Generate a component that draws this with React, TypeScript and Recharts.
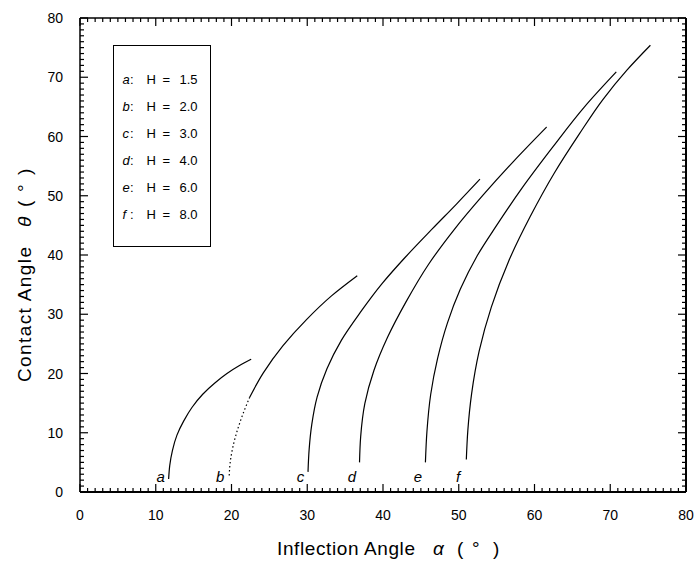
import {
  ComposedChart,
  Label,
  Legend,
  Line,
  Scatter,
  XAxis,
  YAxis,
} from "recharts";

// curve letters and the dimensionless height each one belongs to
const curveNames = ["a", "b", "c", "d", "e", "f"];
const heights = [1.5, 2.0, 3.0, 4.0, 6.0, 8.0];

// inflection angle (alpha) vs contact angle (theta), degrees
const aAlpha = [11.7, 11.85, 12.2, 12.8, 13.7, 14.8, 16.2, 17.8, 19.4, 21.0, 22.6];
const aTheta = [2.2, 4.5, 7.0, 9.6, 12.0, 14.3, 16.5, 18.4, 20.0, 21.3, 22.4];

// lower part of b prints as a dotted trace
const bLowAlpha = [19.7, 19.8, 20.2, 21.1, 22.4];
const bLowTheta = [2.8, 4.7, 7.7, 11.7, 16.0];
const bAlpha = [22.4, 24.2, 26.8, 29.9, 33.2, 36.6];
const bTheta = [16.0, 20.1, 24.7, 29.1, 33.1, 36.5];

const cAlpha = [30.1, 30.25, 30.6, 31.3, 32.6, 34.5, 37.0, 39.9, 43.0, 46.5, 49.7, 52.8];
const cTheta = [3.4, 7.2, 11.4, 16.0, 20.8, 25.6, 30.3, 35.2, 39.7, 44.4, 48.6, 52.8];

const dAlpha = [36.9, 37.05, 37.6, 38.8, 40.6, 43.0, 46.0, 49.4, 53.2, 57.3, 61.6];
const dTheta = [5.0, 9.3, 14.9, 20.5, 26.1, 32.0, 38.4, 44.3, 50.1, 55.9, 61.6];

const eAlpha = [45.6, 45.8, 46.3, 47.2, 48.5, 50.2, 52.4, 55.0, 58.3, 62.4, 66.6, 70.8];
const eTheta = [5.0, 10.2, 16.5, 22.5, 28.5, 34.2, 39.8, 45.0, 51.2, 58.2, 65.0, 70.9];

const fAlpha = [51.0, 51.2, 51.7, 52.7, 54.3, 56.6, 59.4, 62.6, 65.9, 69.0, 72.2, 75.3];
const fTheta = [5.5, 10.4, 16.6, 23.8, 31.2, 39.0, 46.4, 53.8, 60.4, 66.2, 71.2, 75.4];

// where the letter of each curve sits
const letterAlpha = [10.65, 18.5, 29.1, 35.9, 44.6, 49.9];
const letterTheta = [2.6, 2.6, 2.6, 2.6, 2.6, 2.6];

const toPoints = (alpha: number[], theta: number[]) =>
  alpha.map((a, i) => ({ alpha: a, theta: theta[i] }));

const curves = [
  { key: "a", data: toPoints(aAlpha, aTheta) },
  { key: "b", data: toPoints(bAlpha, bTheta) },
  { key: "c", data: toPoints(cAlpha, cTheta) },
  { key: "d", data: toPoints(dAlpha, dTheta) },
  { key: "e", data: toPoints(eAlpha, eTheta) },
  { key: "f", data: toPoints(fAlpha, fTheta) },
];
const bLow = toPoints(bLowAlpha, bLowTheta);
const letters = curveNames.map((name, i) => ({
  name,
  alpha: letterAlpha[i],
  theta: letterTheta[i],
}));

// plot box inside the 698x563 svg
const PLOT = { top: 18, left: 80, width: 606, height: 474 };

const ticks = Array.from({ length: 81 }, (_, i) => i);
const tickLen = (v: number) => (v % 10 === 0 ? 8 : 4);
const tickY = (v: number) => PLOT.top + PLOT.height * (1 - v / 80);

// The bottom axis draws the whole frame: its own inward ticks and labels,
// the matching top ticks, and on its two end ticks the left/right sides.
const FrameTick = ({ x, y, payload }: any) => {
  const v = payload.value;
  const len = tickLen(v);
  return (
    <g stroke="#000" strokeWidth={1.2}>
      <line x1={x} x2={x} y1={y} y2={y - len} />
      <line x1={x} x2={x} y1={PLOT.top} y2={PLOT.top + len} />
      {v === 0 && (
        <>
          <line x1={x} x2={x + PLOT.width} y1={PLOT.top} y2={PLOT.top} strokeWidth={1.5} />
          {ticks.map((t) => (
            <line key={t} x1={x} x2={x + tickLen(t)} y1={tickY(t)} y2={tickY(t)} />
          ))}
        </>
      )}
      {v === 80 && (
        <>
          <line x1={x} x2={x} y1={PLOT.top} y2={y} strokeWidth={2} />
          {ticks.map((t) => (
            <line key={t} x1={x} x2={x - tickLen(t)} y1={tickY(t)} y2={tickY(t)} />
          ))}
        </>
      )}
      {v % 10 === 0 && (
        <text x={x} y={y + 28} textAnchor="middle" fontSize={14} fill="#000" stroke="none">
          {v}
        </text>
      )}
    </g>
  );
};

const LeftTick = ({ x, y, payload }: any) =>
  payload.value % 10 === 0 ? (
    <text x={x - 17} y={y + 5} textAnchor="end" fontSize={14} fill="#000">
      {payload.value}
    </text>
  ) : (
    <g />
  );

const XTitle = ({ viewBox }: any) => {
  const x0 = (viewBox?.x ?? 80) + 197;
  const y0 = (viewBox?.y ?? 492) + 63;
  return (
    <g fontSize={19} fill="#000">
      <text x={x0} y={y0} textLength={138} lengthAdjust="spacing">
        Inflection Angle
      </text>
      <text x={x0 + 156} y={y0} fontStyle="italic">α</text>
      <text x={x0 + 180} y={y0}>(</text>
      <text x={x0 + 195} y={y0}>°</text>
      <text x={x0 + 216} y={y0}>)</text>
    </g>
  );
};

const YTitle = () => (
  <g fontSize={19} fill="#000" transform="translate(30.5, 382) rotate(-90)">
    <text x={0} y={0} textLength={135} lengthAdjust="spacing">
      Contact Angle
    </text>
    <text x={155} y={0} fontStyle="italic">θ</text>
    <text x={175} y={0}>(</text>
    <text x={190} y={0}>°</text>
    <text x={207} y={0}>)</text>
  </g>
);

const LegendBox = () => (
  <div
    style={{
      position: "relative",
      width: 98,
      height: 202,
      border: "1.5px solid #000",
      boxSizing: "border-box",
      fontSize: 13,
      lineHeight: "15px",
      color: "#000",
      background: "#fff",
    }}
  >
    {curveNames.map((n, i) => (
      <div key={n} style={{ position: "absolute", top: 26 + i * 27, left: 0, width: "100%", height: 15 }}>
        <span style={{ position: "absolute", left: 8.5, fontStyle: "italic" }}>{n}</span>
        <span style={{ position: "absolute", left: 16 }}>:</span>
        <span style={{ position: "absolute", left: 32.5 }}>H</span>
        <span style={{ position: "absolute", left: 48.5 }}>=</span>
        <span style={{ position: "absolute", left: 65.5 }}>{heights[i].toFixed(1)}</span>
      </div>
    ))}
  </div>
);

const LetterMark = ({ cx, cy, payload }: any) => (
  <text x={cx} y={cy + 5} textAnchor="middle" fontSize={15} fontStyle="italic" fill="#000">
    {payload.name}
  </text>
);

export default function App() {
  return (
    <div
      style={{
        position: "absolute",
        left: 0,
        top: 0,
        fontFamily: '"Liberation Sans", Arial, sans-serif',
      }}
    >
      <ComposedChart
        width={698}
        height={563}
        margin={{ top: PLOT.top, right: 698 - PLOT.left - PLOT.width, bottom: 0, left: 8 }}
      >
        <XAxis
          dataKey="alpha"
          type="number"
          domain={[0, 80]}
          ticks={ticks}
          interval={0}
          height={71}
          tickSize={0}
          tickMargin={0}
          tickLine={false}
          tick={FrameTick}
          axisLine={{ stroke: "#000", strokeWidth: 2 }}
        >
          <Label content={XTitle} />
        </XAxis>
        <YAxis
          type="number"
          domain={[0, 80]}
          ticks={ticks}
          interval={0}
          width={72}
          tickSize={0}
          tickMargin={0}
          tickLine={false}
          tick={LeftTick}
          axisLine={{ stroke: "#000", strokeWidth: 1.5 }}
        >
          <Label content={YTitle} />
        </YAxis>
        <Legend
          layout="vertical"
          align="center"
          verticalAlign="middle"
          content={LegendBox}
          wrapperStyle={{ top: 45, left: 113, width: 98, height: 202 }}
        />
        <Line
          data={bLow}
          dataKey="theta"
          type="monotoneY"
          stroke="#000"
          strokeWidth={1.2}
          strokeDasharray="1.5 2.5"
          dot={false}
          activeDot={false}
          legendType="none"
          isAnimationActive={false}
        />
        {curves.map((c) => (
          <Line
            key={c.key}
            name={c.key}
            data={c.data}
            dataKey="theta"
            type="monotoneY"
            stroke="#000"
            strokeWidth={1.2}
            dot={false}
            activeDot={false}
            isAnimationActive={false}
          />
        ))}
        <Scatter
          data={letters}
          dataKey="theta"
          shape={LetterMark}
          legendType="none"
          isAnimationActive={false}
        />
      </ComposedChart>
    </div>
  );
}
